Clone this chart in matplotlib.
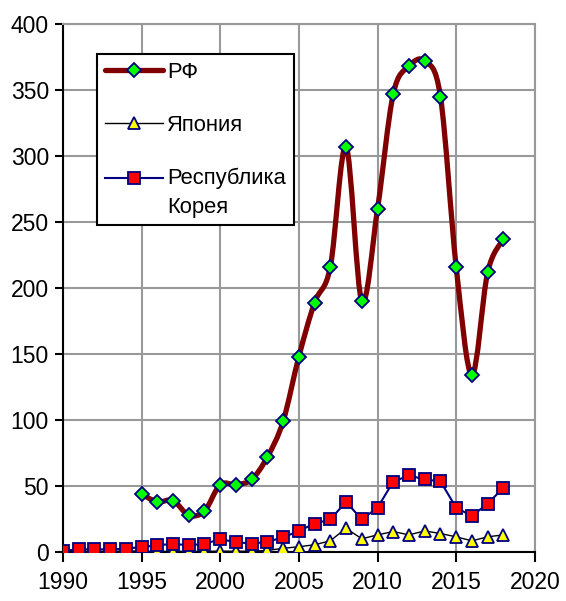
import numpy as np
import matplotlib
matplotlib.use("Agg")
import matplotlib.pyplot as plt
from matplotlib.path import Path
from matplotlib.patches import PathPatch
from matplotlib.lines import Line2D
from matplotlib.legend_handler import HandlerLine2D

plt.rcParams['font.family'] = ['Liberation Sans', 'DejaVu Sans']

""" Data read off the reference """
years_rf = list(range(1995, 2019))
rf = [44, 38, 39, 28, 31, 51, 51, 55, 72, 99, 148, 189, 216, 307, 190, 260,
      347, 368, 372, 345, 216, 134, 212, 237]

years_all = list(range(1990, 2019))
japan = [0.5, 0.5, 0.5, 0.5, 0.7, 0.8, 0.5, 0.5, 0.5, 0.5, 0.7, 0.6, 0.6, 1.2,
         2.8, 4, 5.5, 8.5, 18, 10, 13, 15.5, 13, 16, 14, 11.5, 8.5, 11.5, 13]
korea = [1, 2, 2, 2, 2.5, 3.8, 5, 6.3, 5, 6.3, 9.6, 7.6, 6.3, 7.8, 11, 16,
         21.5, 24.7, 38, 24.7, 33.6, 53.3, 58, 55, 53.5, 33.6, 27.3, 36.6, 48.7]

x_ticks = [1990, 1995, 2000, 2005, 2010, 2015, 2020]
y_ticks = list(range(0, 401, 50))
labels = ['РФ', 'Япония', 'Республика\nКорея']

rf_color = '#800000'
navy = '#000080'
tick_fs = 16.5
leg_fs = 15.8


def smooth_path(xs, ys):
    """Excel-like smoothed line: cubic bezier between points"""
    pts = np.column_stack([xs, ys]).astype(float)
    n = len(pts)
    verts = [pts[0]]
    codes = [Path.MOVETO]
    for i in range(n - 1):
        p0 = pts[i - 1] if i > 0 else pts[i]
        p1 = pts[i]
        p2 = pts[i + 1]
        p3 = pts[i + 2] if i + 2 < n else pts[i + 1]
        c1 = p1 + (p2 - p0) / 6.0
        c2 = p2 - (p3 - p1) / 6.0
        verts += [c1, c2, p2]
        codes += [Path.CURVE4] * 3
    return Path(verts, codes)


class UpHandler(HandlerLine2D):
    """legend handle lifted to the first line of a two-line label"""
    def __init__(self, shift, **kw):
        super().__init__(**kw)
        self.shift = shift

    def create_artists(self, legend, orig_handle, xdescent, ydescent, width, height, fontsize, trans):
        return super().create_artists(legend, orig_handle, xdescent, ydescent - 2 * self.shift,
                                      width, height, fontsize, trans)


fig = plt.figure(figsize=(5.66, 6.01), dpi=100)
ax = fig.add_axes([0.111, 0.0815, 0.834, 0.8785])

ax.set_xlim(1990, 2020)
ax.set_ylim(0, 400)
ax.set_xticks(x_ticks)
ax.set_yticks(y_ticks)
ax.grid(True, color='#999999', linewidth=1.5)
ax.set_axisbelow(True)

for side in ['top', 'right']:
    ax.spines[side].set_color('#999999')
    ax.spines[side].set_linewidth(1.5)
for side in ['left', 'bottom']:
    ax.spines[side].set_color('black')
    ax.spines[side].set_linewidth(1.5)

ax.tick_params(axis='both', direction='out', width=1.5, labelsize=tick_fs)
ax.tick_params(axis='y', length=6, pad=4)
ax.tick_params(axis='x', length=7, pad=7)

# Japan and Korea
ax.plot(years_all, japan, color='black', linewidth=1, marker='^', markersize=9,
        markerfacecolor='#ffff00', markeredgecolor=navy, markeredgewidth=1.3, zorder=3)
ax.plot(years_all, korea, color=navy, linewidth=1.5, marker='s', markersize=8,
        markerfacecolor='#ff0000', markeredgecolor=navy, markeredgewidth=1.3, zorder=4)

# RF smoothed line
ax.add_patch(PathPatch(smooth_path(years_rf, rf), facecolor='none', edgecolor=rf_color,
                       linewidth=3.8, capstyle='round', zorder=5))
ax.plot(years_rf, rf, linestyle='none', marker='D', markersize=7,
        markerfacecolor='#00ff00', markeredgecolor=navy, markeredgewidth=1.3, zorder=6)

h_rf = Line2D([], [], color=rf_color, linewidth=3.8, solid_capstyle='round', marker='D',
              markersize=7, markerfacecolor='#00ff00', markeredgecolor=navy, markeredgewidth=1.3)
h_jp = Line2D([], [], color='black', linewidth=1, marker='^', markersize=9,
              markerfacecolor='#ffff00', markeredgecolor=navy, markeredgewidth=1.3)
h_kr = Line2D([], [], color=navy, linewidth=1.5, marker='s', markersize=8,
              markerfacecolor='#ff0000', markeredgecolor=navy, markeredgewidth=1.3)

leg = ax.legend([h_rf, h_jp, h_kr], labels, loc='upper left', bbox_to_anchor=(0.0727, 0.943),
                borderaxespad=0, fontsize=leg_fs, numpoints=1, handlelength=2.65,
                handletextpad=0.2, labelspacing=1.45, borderpad=0.35,
                fancybox=False, framealpha=1, edgecolor='black',
                handler_map={h_kr: UpHandler(11, numpoints=1)})
leg.get_frame().set_linewidth(1.5)
leg.set_zorder(10)
for t in leg.get_texts():
    t.set_linespacing(1.5)
    t.set_multialignment('left')

plt.savefig('out.png', dpi=100)
